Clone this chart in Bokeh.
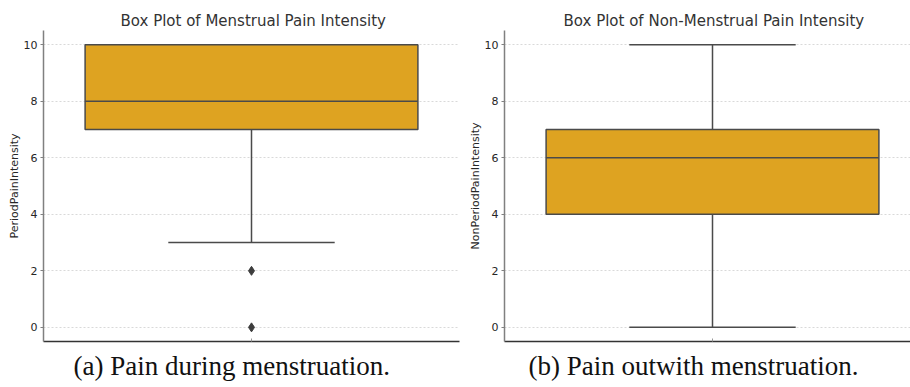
from bokeh.plotting import figure
from bokeh.layouts import row
from bokeh.models import FixedTicker, Range1d, Title
from bokeh.embed import file_html
from bokeh.resources import INLINE

# Summary statistics of the two pain-intensity distributions
variables = ["PeriodPainIntensity", "NonPeriodPainIntensity"]
titles = ["Box Plot of Menstrual Pain Intensity", "Box Plot of Non-Menstrual Pain Intensity"]
captions = ["(a) Pain during menstruation.", "(b) Pain outwith menstruation."]
q1 = [7, 4]
median = [8, 6]
q3 = [10, 7]
whisker_low = [3, 0]
whisker_high = [10, 10]
outliers = [[2, 0], []]
y_ticks = [0, 2, 4, 6, 8, 10]

BOX_FILL = "#DEA321"
EDGE = "#4a4a4a"


def panel(i, width, x_end, border_left, border_right, title_offset, caption_offset):
    p = figure(width=width, height=387, output_backend="svg", toolbar_location=None,
               x_range=Range1d(-0.5, x_end), y_range=Range1d(-0.5, 10.5),
               min_border_left=border_left, min_border_right=border_right,
               min_border_top=30, min_border_bottom=46)
    p.outline_line_color = None
    p.background_fill_color = "white"
    p.border_fill_color = "white"

    # horizontal dotted grid only
    p.xgrid.grid_line_color = None
    p.ygrid.grid_line_color = "#cfcfcf"
    p.ygrid.grid_line_width = 0.8
    p.ygrid.grid_line_dash = "2 2"
    p.ygrid.ticker = FixedTicker(ticks=y_ticks)

    # y axis
    p.yaxis.ticker = FixedTicker(ticks=y_ticks)
    p.yaxis.axis_label = variables[i]
    p.yaxis.axis_label_text_font = "DejaVu Sans"
    p.yaxis.axis_label_text_font_style = "normal"
    p.yaxis.axis_label_text_font_size = "11px"
    p.yaxis.axis_label_text_color = "#262626"
    p.yaxis.axis_label_standoff = 0
    p.yaxis.major_label_text_font = "DejaVu Sans"
    p.yaxis.major_label_text_font_size = "11px"
    p.yaxis.major_label_text_color = "#262626"
    p.yaxis.major_label_standoff = 3
    p.yaxis.axis_line_color = "#808080"
    p.yaxis.axis_line_width = 1.5
    p.yaxis.major_tick_line_color = "#808080"
    p.yaxis.major_tick_in = 0
    p.yaxis.major_tick_out = 3
    p.yaxis.minor_tick_line_color = None

    # x axis: single unlabeled tick at the box centre
    p.xaxis.ticker = FixedTicker(ticks=[0])
    p.xaxis.major_label_overrides = {0: ""}
    p.xaxis.major_label_text_font_size = "1px"
    p.xaxis.major_label_standoff = 0
    p.xaxis.axis_line_color = "#333333"
    p.xaxis.axis_line_width = 1.5
    p.xaxis.major_tick_line_color = "#999999"
    p.xaxis.major_tick_in = 3
    p.xaxis.major_tick_out = 0
    p.xaxis.minor_tick_line_color = None

    # whiskers and caps
    p.segment(x0=[0, 0], y0=[whisker_low[i], q3[i]], x1=[0, 0], y1=[q1[i], whisker_high[i]],
              line_color=EDGE, line_width=1.5)
    p.segment(x0=[-0.2, -0.2], y0=[whisker_low[i], whisker_high[i]],
              x1=[0.2, 0.2], y1=[whisker_low[i], whisker_high[i]],
              line_color=EDGE, line_width=1.5)
    # box and median
    p.vbar(x=[0], width=0.8, bottom=[q1[i]], top=[q3[i]],
           fill_color=BOX_FILL, line_color=EDGE, line_width=1.5)
    p.segment(x0=[-0.4], y0=[median[i]], x1=[0.4], y1=[median[i]],
              line_color=EDGE, line_width=1.5)
    # outliers
    if outliers[i]:
        p.scatter(x=[0] * len(outliers[i]), y=outliers[i], marker="diamond", size=9,
                  fill_color="#3d3d3d", line_color="#3d3d3d")

    # title above and subfigure caption below
    p.add_layout(Title(text=titles[i], align="left", offset=title_offset, standoff=2,
                       text_font="DejaVu Sans", text_font_size="15px",
                       text_font_style="normal", text_color="#333333"), "above")
    p.add_layout(Title(text=captions[i], align="left", offset=caption_offset, standoff=14,
                       text_font="Liberation Serif", text_font_size="27px",
                       text_line_height=0.6,
                       text_font_style="normal", text_color="#111111"), "below")
    return p


left = panel(0, 460, 0.5, 43, 1, 77, 30)
right = panel(1, 450, -0.5 + 406 / 416, 44, 0, 59, 24)
layout = row(left, right, spacing=0)

open("out.html", "w").write(file_html(layout, INLINE))
